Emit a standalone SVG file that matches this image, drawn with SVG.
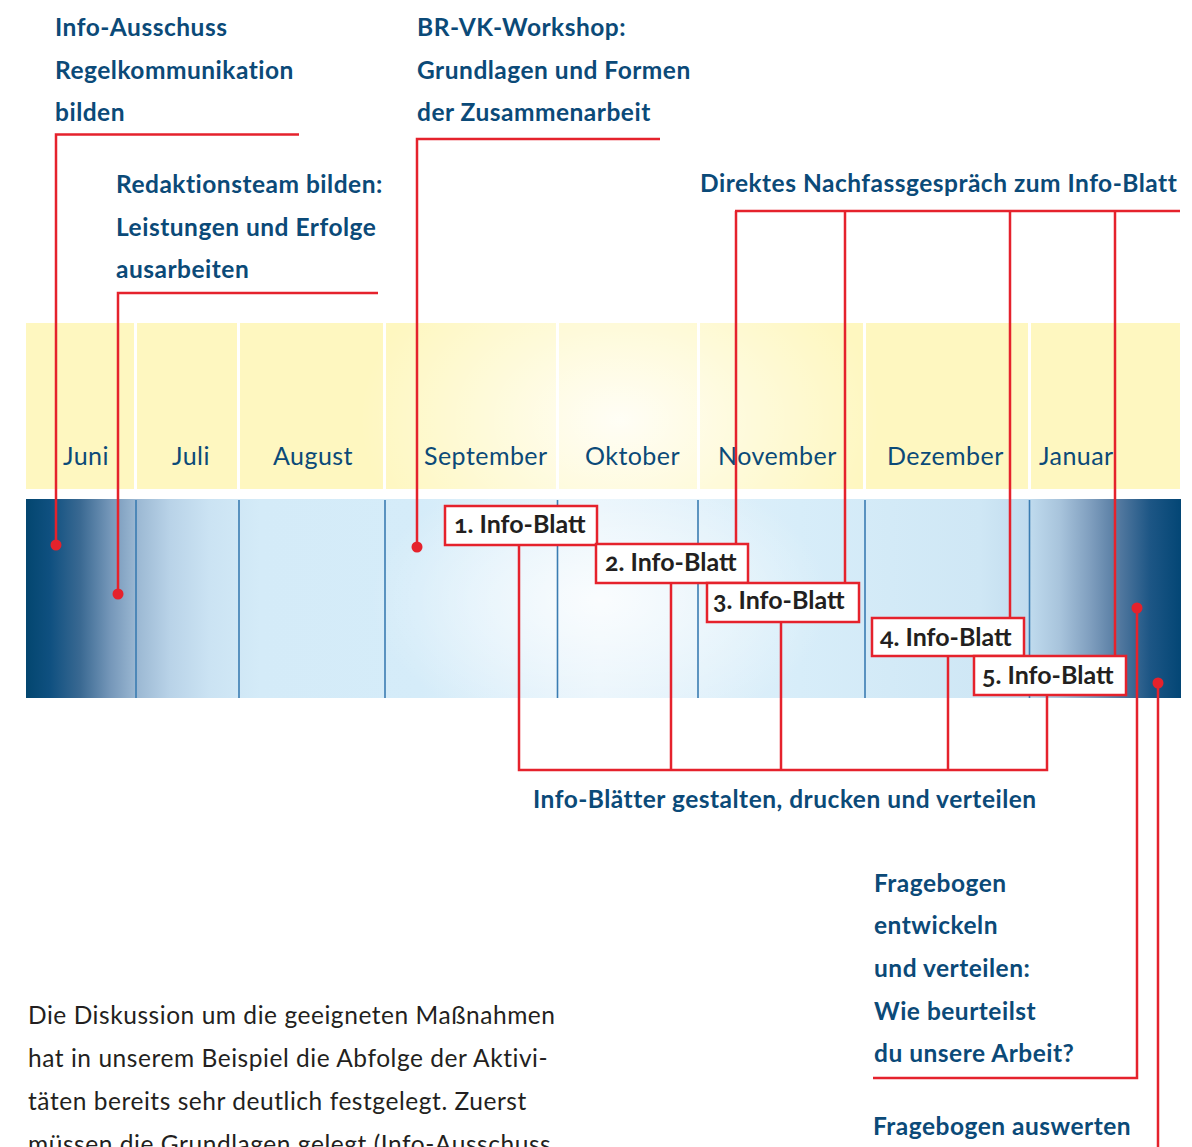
<svg xmlns="http://www.w3.org/2000/svg" width="1192" height="1147" viewBox="0 0 1192 1147">
  <style>
    .lbl { font-family: Lato, "Noto Sans", sans-serif; font-weight: 700; font-size: 24.5px; letter-spacing: 0.5px; fill: #0b4a78; }
    .month { font-family: Lato, "Noto Sans", sans-serif; font-weight: 400; font-size: 25px; letter-spacing: 0.45px; fill: #0b4a78; }
    .box rect { fill: #ffffff; stroke: #e5222c; stroke-width: 2.5; }
    .box text { font-family: Lato, "Noto Sans", sans-serif; font-weight: 700; font-size: 25px; fill: #231f20; font-variant-numeric: oldstyle-nums; }
    .body { font-family: Lato, "Noto Sans", sans-serif; font-weight: 400; font-size: 24.5px; letter-spacing: 0.55px; fill: #231f20; }
    .red { fill: none; stroke: #e5222c; stroke-width: 2.5; }
    .dot { fill: #e5222c; }
    .tick { stroke: #3a7cb2; stroke-width: 1.6; }
    .gap { fill: #ffffff; }
  </style>
  <defs>
    <linearGradient id="blueBand" x1="26" y1="0" x2="1181" y2="0" gradientUnits="userSpaceOnUse">
      <stop offset="0" stop-color="#03466f"/>
      <stop offset="0.021" stop-color="#0f5080"/>
      <stop offset="0.047" stop-color="#3a6992"/>
      <stop offset="0.073" stop-color="#7597b9"/>
      <stop offset="0.095" stop-color="#9ab7d2"/>
      <stop offset="0.125" stop-color="#b9d3e8"/>
      <stop offset="0.159" stop-color="#cbe3f3"/>
      <stop offset="0.203" stop-color="#d4ebf8"/>
      <stop offset="0.341" stop-color="#d5ecf9"/>
      <stop offset="0.497" stop-color="#e6f3fb"/>
      <stop offset="0.670" stop-color="#d7edf9"/>
      <stop offset="0.826" stop-color="#cfe7f5"/>
      <stop offset="0.869" stop-color="#c0dbee"/>
      <stop offset="0.895" stop-color="#a8c4dc"/>
      <stop offset="0.921" stop-color="#809fbf"/>
      <stop offset="0.947" stop-color="#52789f"/>
      <stop offset="0.973" stop-color="#1d5685"/>
      <stop offset="1" stop-color="#034675"/>
    </linearGradient>
    <radialGradient id="blueGlow" cx="600" cy="600" r="230" gradientUnits="userSpaceOnUse" gradientTransform="translate(600 600) scale(1 0.6) translate(-600 -600)">
      <stop offset="0" stop-color="#ffffff" stop-opacity="0.8"/>
      <stop offset="1" stop-color="#ffffff" stop-opacity="0"/>
    </radialGradient>
    <radialGradient id="yellowGlow" cx="620" cy="420" r="260" gradientUnits="userSpaceOnUse" gradientTransform="translate(620 420) scale(1 0.7) translate(-620 -420)">
      <stop offset="0" stop-color="#ffffff" stop-opacity="0.85"/>
      <stop offset="1" stop-color="#ffffff" stop-opacity="0"/>
    </radialGradient>
  </defs>

  <rect width="1192" height="1147" fill="#ffffff"/>

  <!-- month band (yellow) -->
  <g id="month-band">
    <rect x="26" y="323" width="1154" height="166" fill="#fef7c0"/>
    <rect x="26" y="323" width="1154" height="166" fill="url(#yellowGlow)"/>
    <rect class="gap" x="134" y="323" width="3" height="166"/>
    <rect class="gap" x="237" y="323" width="3" height="166"/>
    <rect class="gap" x="383" y="323" width="3" height="166"/>
    <rect class="gap" x="556" y="323" width="3" height="166"/>
    <rect class="gap" x="697" y="323" width="3" height="166"/>
    <rect class="gap" x="863" y="323" width="3" height="166"/>
    <rect class="gap" x="1028" y="323" width="3" height="166"/>
    <text class="month" x="63" y="465">Juni</text>
    <text class="month" x="172" y="465">Juli</text>
    <text class="month" x="273" y="465">August</text>
    <text class="month" x="424" y="465">September</text>
    <text class="month" x="585" y="465">Oktober</text>
    <text class="month" x="718" y="465">November</text>
    <text class="month" x="887" y="465">Dezember</text>
    <text class="month" x="1039" y="465">Januar</text>
  </g>

  <!-- timeline band (blue) -->
  <g id="timeline-band">
    <rect x="26" y="499" width="1155" height="199" fill="url(#blueBand)"/>
    <rect x="26" y="499" width="1155" height="199" fill="url(#blueGlow)"/>
    <line class="tick" x1="136" y1="500" x2="136" y2="698"/>
    <line class="tick" x1="239" y1="500" x2="239" y2="698"/>
    <line class="tick" x1="385" y1="500" x2="385" y2="698"/>
    <line class="tick" x1="557.5" y1="500" x2="557.5" y2="698"/>
    <line class="tick" x1="698" y1="500" x2="698" y2="698"/>
    <line class="tick" x1="865" y1="500" x2="865" y2="698"/>
    <line class="tick" x1="1029.5" y1="500" x2="1029.5" y2="698"/>
  </g>

  <!-- connectors -->
  <g id="connectors">
    <polyline class="red" points="299,134.5 56,134.5 56,545"/>
    <polyline class="red" points="378,293 118,293 118,594"/>
    <polyline class="red" points="660,139 417,139 417,547"/>
    <line class="red" x1="735" y1="211" x2="1180" y2="211"/>
    <line class="red" x1="736" y1="211" x2="736" y2="544"/>
    <line class="red" x1="845" y1="211" x2="845" y2="583"/>
    <line class="red" x1="1010" y1="211" x2="1010" y2="618"/>
    <line class="red" x1="1115" y1="211" x2="1115" y2="656"/>
    <polyline class="red" points="519,545 519,770 1047,770 1047,695"/>
    <line class="red" x1="671" y1="583" x2="671" y2="770"/>
    <line class="red" x1="781" y1="622" x2="781" y2="770"/>
    <line class="red" x1="948" y1="656" x2="948" y2="770"/>
    <polyline class="red" points="1137,608 1137,1078 873,1078"/>
    <line class="red" x1="1158" y1="683" x2="1158" y2="1147"/>
    <circle class="dot" cx="56" cy="545" r="5.5"/>
    <circle class="dot" cx="118" cy="594" r="5.5"/>
    <circle class="dot" cx="417" cy="547" r="5.5"/>
    <circle class="dot" cx="1137" cy="608" r="5.5"/>
    <circle class="dot" cx="1158" cy="683" r="5.5"/>
  </g>

  <!-- activity labels -->
  <g id="info-ausschuss">
    <text class="lbl" x="55" y="36">Info-Ausschuss</text>
    <text class="lbl" x="55" y="79">Regelkommunikation</text>
    <text class="lbl" x="55" y="121">bilden</text>
  </g>
  <g id="redaktionsteam">
    <text class="lbl" x="116" y="193">Redaktionsteam bilden:</text>
    <text class="lbl" x="116" y="236">Leistungen und Erfolge</text>
    <text class="lbl" x="116" y="278">ausarbeiten</text>
  </g>
  <g id="workshop">
    <text class="lbl" x="417" y="36">BR-VK-Workshop:</text>
    <text class="lbl" x="417" y="79">Grundlagen und Formen</text>
    <text class="lbl" x="417" y="121">der Zusammenarbeit</text>
  </g>
  <g id="nachfassgespraech">
    <text class="lbl" x="700" y="192">Direktes Nachfassgespräch zum Info-Blatt</text>
  </g>
  <g id="info-blaetter">
    <text class="lbl" x="533" y="808">Info-Blätter gestalten, drucken und verteilen</text>
  </g>
  <g id="fragebogen-entwickeln">
    <text class="lbl" x="874" y="892">Fragebogen</text>
    <text class="lbl" x="874" y="934">entwickeln</text>
    <text class="lbl" x="874" y="977">und verteilen:</text>
    <text class="lbl" x="874" y="1020">Wie beurteilst</text>
    <text class="lbl" x="874" y="1062">du unsere Arbeit?</text>
  </g>
  <g id="fragebogen-auswerten">
    <text class="lbl" x="873" y="1135">Fragebogen auswerten</text>
  </g>

  <!-- info sheet boxes -->
  <g id="info-blatt-1" class="box">
    <rect x="445" y="506" width="152" height="39"/>
    <text x="454" y="533">1. Info-Blatt</text>
  </g>
  <g id="info-blatt-2" class="box">
    <rect x="596" y="544" width="152" height="39"/>
    <text x="605" y="571">2. Info-Blatt</text>
  </g>
  <g id="info-blatt-3" class="box">
    <rect x="707" y="583" width="152" height="39"/>
    <text x="713" y="609">3. Info-Blatt</text>
  </g>
  <g id="info-blatt-4" class="box">
    <rect x="872" y="618" width="152" height="38"/>
    <text x="880" y="646">4. Info-Blatt</text>
  </g>
  <g id="info-blatt-5" class="box">
    <rect x="974" y="656" width="152" height="39"/>
    <text x="982" y="684">5. Info-Blatt</text>
  </g>

  <!-- body copy -->
  <g id="body-text">
    <text class="body" x="28" y="1024">Die Diskussion um die geeigneten Maßnahmen</text>
    <text class="body" x="28" y="1067">hat in unserem Beispiel die Abfolge der Aktivi-</text>
    <text class="body" x="28" y="1110">täten bereits sehr deutlich festgelegt. Zuerst</text>
    <text class="body" x="28" y="1153">müssen die Grundlagen gelegt (Info-Ausschuss</text>
  </g>
</svg>
